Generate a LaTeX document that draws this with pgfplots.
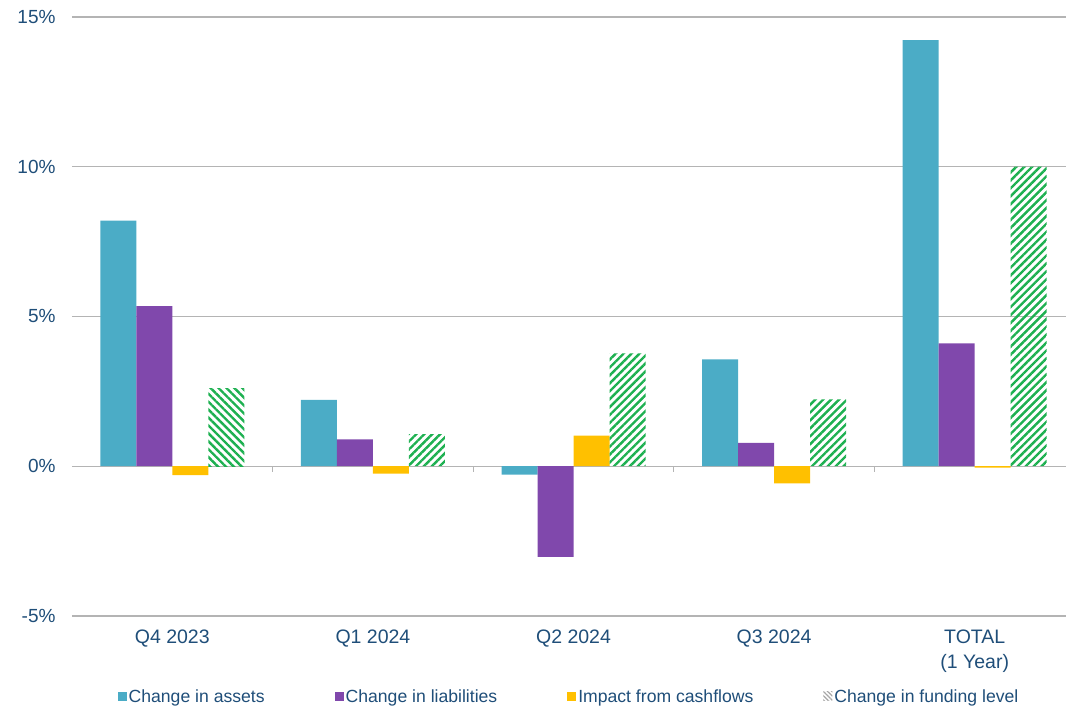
\documentclass[border=0pt]{standalone}
\usepackage{fontspec}
\setmainfont{Liberation Sans}
\usepackage{pgfplots}
\pgfplotsset{compat=1.18}
\usetikzlibrary{patterns.meta}
\definecolor{cAssets}{HTML}{4BACC6}
\definecolor{cLiab}{HTML}{8048AC}
\definecolor{cCash}{HTML}{FFC000}
\definecolor{cFund}{HTML}{1DB050}
\definecolor{cText}{HTML}{1F4E79}
\definecolor{cGrid}{HTML}{B4B4B4}
\begin{document}
\begin{tikzpicture}
\path[use as bounding box] (-72pt,-92pt) rectangle (994pt,616pt);
\begin{axis}[
  scale only axis,
  width=994pt, height=599pt,
  xmin=-0.5, xmax=4.455,
  ymin=-5, ymax=15,
  ytick={-5,0,5,10,15},
  yticklabel={\pgfmathprintnumber{\tick}\%},
  /pgf/number format/assume math mode=true,
  xtick={0,1,2,3,4},
  xticklabels={Q4 2023, Q1 2024, Q2 2024, Q3 2024, {TOTAL\\(1 Year)}},
  xticklabel style={align=center, font=\fontsize{19.5}{25}\selectfont, text=cText, yshift=-10pt},
  yticklabel style={font=\fontsize{19}{24}\selectfont, text=cText, xshift=-13pt},
  major tick length=0pt,
  axis line style={draw=none},
  ymajorgrids,
  grid style={cGrid, line width=1.2pt},
  ybar, bar width=36pt,
  legend columns=-1,
  legend style={draw=none, at={(axis description cs:0.5,0)}, anchor=center, yshift=-81pt,
    font=\fontsize{17.6}{20}\selectfont, text=cText,
    /tikz/every even column/.append style={column sep=68pt}},
  clip=false,
]
\addplot[fill=cAssets, draw=none, bar shift=-54pt,
  legend image code/.code={\fill[cAssets] (0pt,-4pt) rectangle (9pt,5pt);}]
  coordinates {(0,8.2) (1,2.22) (2,-0.28) (3,3.57) (4,14.23)};
\addlegendentry{Change in assets}
\addplot[fill=cLiab, draw=none, bar shift=-18pt,
  legend image code/.code={\fill[cLiab] (0pt,-4pt) rectangle (9pt,5pt);}]
  coordinates {(0,5.35) (1,0.9) (2,-3.03) (3,0.78) (4,4.1)};
\addlegendentry{Change in liabilities}
\addplot[fill=cCash, draw=none, bar shift=18pt,
  legend image code/.code={\fill[cCash] (0pt,-4pt) rectangle (9pt,5pt);}]
  coordinates {(0,-0.3) (1,-0.25) (2,1.02) (3,-0.57) (4,-0.05)};
\addlegendentry{Impact from cashflows}
\addplot[draw=none, bar shift=54pt,
  pattern={Lines[angle=45, distance=5.6pt, line width=2.4pt]}, pattern color=cFund,
  legend image code/.code={\fill[pattern={Lines[angle=-45, distance=3pt, line width=1.3pt]}, pattern color=gray!70] (0pt,-4pt) rectangle (9pt,5pt);}]
  coordinates {(1,1.07) (2,3.77) (3,2.23) (4,10.0)};
\addlegendentry{Change in funding level}
\addplot[draw=none, bar shift=54pt, forget plot,
  pattern={Lines[angle=-45, distance=5.6pt, line width=2.4pt]}, pattern color=cFund]
  coordinates {(0,2.58)};
\pgfplotsinvokeforeach{0.5,1.5,2.5,3.5}{
  \draw[cGrid, line width=1.2pt] (axis cs:#1,0) -- ([yshift=-6pt]axis cs:#1,0);
}
\end{axis}
\end{tikzpicture}
\end{document}
